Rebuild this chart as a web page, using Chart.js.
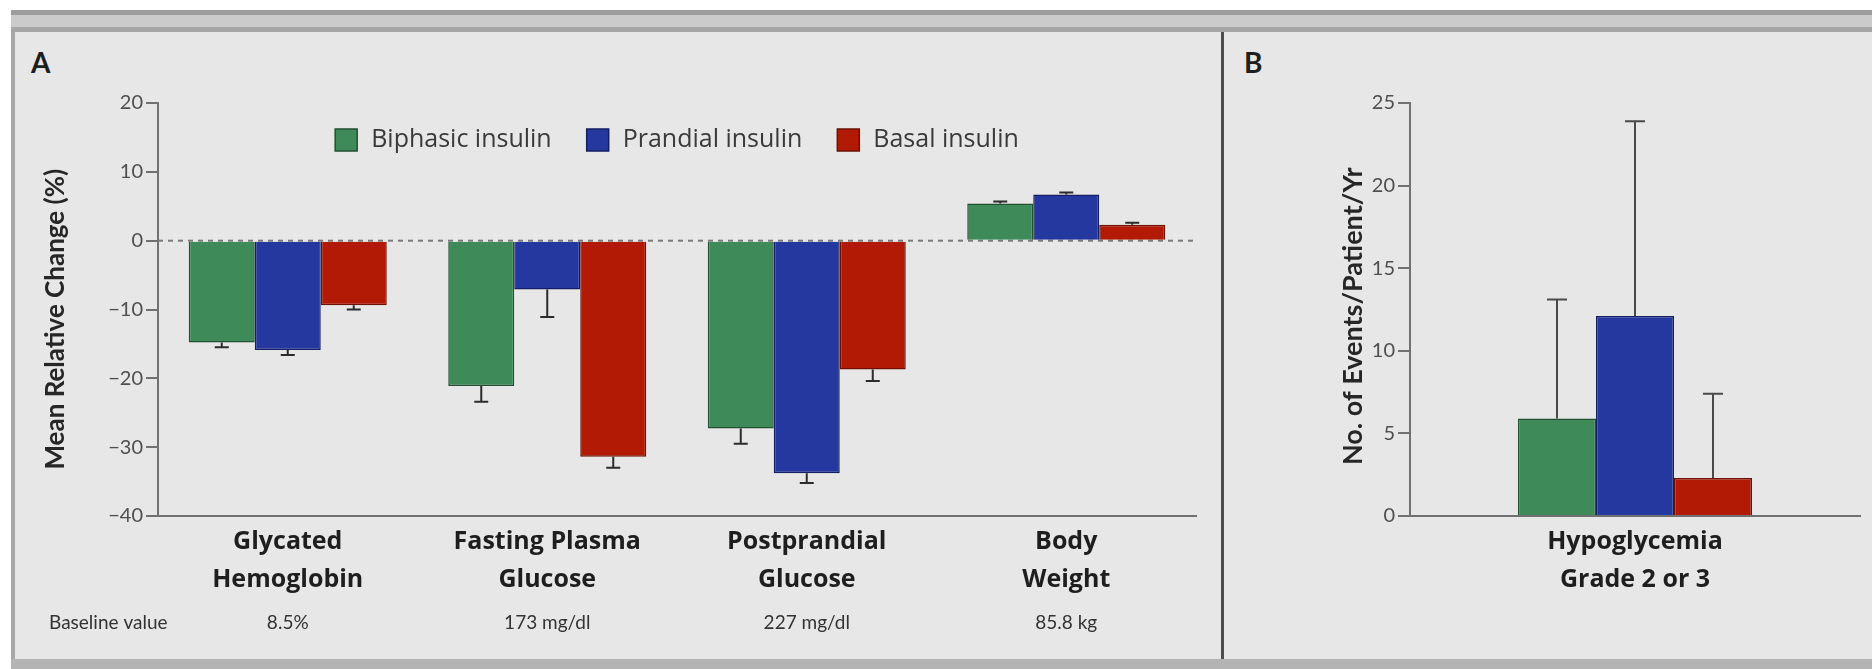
<!DOCTYPE html>
<html>
<head>
<meta charset="utf-8">
<title>Insulin regimens: relative change and hypoglycemia</title>
<script src="https://cdn.jsdelivr.net/npm/chart.js@4.4.1/dist/chart.umd.min.js"></script>
<style>
  html, body { margin: 0; padding: 0; background: #fff; width: 1872px; height: 669px; overflow: hidden; }
  #frame { position: absolute; left: 11px; top: 10px; width: 1861px; height: 659px; background: #e7e7e7; }
  #topband { position: absolute; left: 11px; top: 10px; width: 1861px; height: 22px;
    background: linear-gradient(#9d9d9d 0, #9d9d9d 5px, #cbcbcb 5px, #cbcbcb 17px, #a6a6a6 17px, #a6a6a6 22px); }
  #leftline { position: absolute; left: 11px; top: 32px; width: 4px; height: 627px; background: #a8a8a8; }
  #bottomband { position: absolute; left: 11px; top: 659px; width: 1861px; height: 10px; background: #b4b4b4; }
  #divider { position: absolute; left: 1221px; top: 32px; width: 3px; height: 627px; background: #4d4d4d; }
  .tag { position: absolute; font: bold 28px Lato, sans-serif; color: #1e1e1e; }
  #wrapA { position: absolute; left: 16px; top: 32px; width: 1205px; height: 627px; }
  #wrapB { position: absolute; left: 1225px; top: 32px; width: 647px; height: 627px; }
</style>
</head>
<body>
<div id="frame"></div>
<div id="topband"></div>
<div id="leftline"></div>
<div id="bottomband"></div>
<div id="divider"></div>
<div class="tag" style="left:31px;top:45px;">A</div>
<div class="tag" style="left:1244px;top:45px;">B</div>
<div id="wrapA"><canvas id="chartA" width="1205" height="627"></canvas></div>
<div id="wrapB"><canvas id="chartB" width="647" height="627"></canvas></div>

<script>
// ---- Panel A: mean relative change from baseline (%) ----
const outcomeCategories = [
  ["Glycated", "Hemoglobin"],
  ["Fasting Plasma", "Glucose"],
  ["Postprandial", "Glucose"],
  ["Body", "Weight"]
];
const baselineCaption = "Baseline value";
const baselineValues = ["8.5%", "173 mg/dl", "227 mg/dl", "85.8 kg"];

const biphasicChange = [-14.8, -21.1, -27.3, 5.4];
const biphasicChangeErr = [0.7, 2.3, 2.2, 0.3];
const prandialChange = [-15.9, -7.1, -33.8, 6.7];
const prandialChangeErr = [0.7, 4.0, 1.4, 0.3];
const basalChange = [-9.4, -31.4, -18.7, 2.3];
const basalChangeErr = [0.6, 1.6, 1.7, 0.3];

const changeTicks = [20, 10, 0, -10, -20, -30, -40];

// ---- Panel B: grade 2 or 3 hypoglycemia ----
const hypoCategories = [["Hypoglycemia", "Grade 2 or 3"]];
const biphasicHypo = [5.9];
const biphasicHypoErr = [7.2];
const prandialHypo = [12.1];
const prandialHypoErr = [11.8];
const basalHypo = [2.3];
const basalHypoErr = [5.1];

const eventTicks = [0, 5, 10, 15, 20, 25];

const seriesNames = ["Biphasic insulin", "Prandial insulin", "Basal insulin"];
const fillColors = ["#3e8b59", "#25389f", "#b21a06"];
const edgeColors = ["#234f33", "#141f63", "#6e1004"];

const TICK_FONT = "Lato, 'Open Sans', sans-serif";
const LABEL_FONT = "'Open Sans', Lato, sans-serif";

// Error bars drawn away from zero, with a short cap
const errorBars = {
  id: "errorBars",
  afterDatasetsDraw(chart, args, opts) {
    const ctx = chart.ctx;
    const yScale = chart.scales.y;
    chart.data.datasets.forEach((ds, i) => {
      if (!ds.errors) return;
      const meta = chart.getDatasetMeta(i);
      meta.data.forEach((bar, j) => {
        const v = ds.data[j];
        const end = v + (v < 0 ? -1 : 1) * ds.errors[j];
        const yEnd = yScale.getPixelForValue(end);
        ctx.save();
        ctx.strokeStyle = opts.color;
        ctx.lineWidth = opts.width;
        ctx.beginPath();
        ctx.moveTo(bar.x, bar.y);
        ctx.lineTo(bar.x, yEnd);
        ctx.moveTo(bar.x - opts.cap / 2, yEnd);
        ctx.lineTo(bar.x + opts.cap / 2, yEnd);
        ctx.stroke();
        ctx.restore();
      });
    });
  }
};

// Dashed reference line at zero change
const zeroLine = {
  id: "zeroLine",
  beforeDatasetsDraw(chart) {
    const { ctx, chartArea } = chart;
    const y0 = chart.scales.y.getPixelForValue(0);
    ctx.save();
    ctx.strokeStyle = "#7a7a7a";
    ctx.lineWidth = 2;
    ctx.setLineDash([5, 5]);
    ctx.beginPath();
    ctx.moveTo(chartArea.left, y0);
    ctx.lineTo(chartArea.right + 2, y0);
    ctx.stroke();
    ctx.restore();
  }
};

// One-row legend placed inside the plot, centred over it
const inlineLegend = {
  id: "inlineLegend",
  afterDatasetsDraw(chart, args, opts) {
    const { ctx, chartArea } = chart;
    ctx.save();
    ctx.font = opts.font;
    const items = chart.data.datasets.map(ds => ({
      label: ds.label, fill: ds.backgroundColor, edge: ds.borderColor,
      w: opts.box + opts.gap + ctx.measureText(ds.label).width
    }));
    const total = items.reduce((s, it) => s + it.w, 0) + opts.spacing * (items.length - 1);
    let x = (chartArea.left + chartArea.right) / 2 - total / 2;
    const yc = chartArea.top + opts.offsetY;
    items.forEach(it => {
      ctx.fillStyle = it.fill;
      ctx.fillRect(x, yc - opts.box / 2, opts.box, opts.box);
      ctx.strokeStyle = it.edge;
      ctx.lineWidth = 1.5;
      ctx.strokeRect(x, yc - opts.box / 2, opts.box, opts.box);
      ctx.fillStyle = opts.color;
      ctx.textBaseline = "middle";
      ctx.textAlign = "left";
      ctx.fillText(it.label, x + opts.box + opts.gap, yc);
      x += it.w + opts.spacing;
    });
    ctx.restore();
  }
};

// Row of baseline values under the category labels
const baselineRow = {
  id: "baselineRow",
  afterDraw(chart) {
    const ctx = chart.ctx;
    const xScale = chart.scales.x;
    const y = 591;
    ctx.save();
    ctx.fillStyle = "#333";
    ctx.font = "19px " + TICK_FONT;
    ctx.textBaseline = "middle";
    ctx.textAlign = "left";
    ctx.fillText(baselineCaption, 33, y);
    ctx.textAlign = "center";
    baselineValues.forEach((t, i) => ctx.fillText(t, xScale.getPixelForValue(i), y));
    ctx.restore();
  }
};

function makeDatasets(values, errors, catPct) {
  return seriesNames.map((name, i) => ({
    label: name,
    data: values[i],
    errors: errors[i],
    backgroundColor: fillColors[i],
    borderColor: edgeColors[i],
    borderWidth: 1.5,
    categoryPercentage: catPct,
    barPercentage: 1.0
  }));
}

const minusSign = v => String(v).replace("-", "\u2212");

function yAxis(ticksArr, min, max, width, title, titleSize, titlePad) {
  return {
    min: min, max: max,
    afterBuildTicks: s => { s.ticks = ticksArr.map(v => ({ value: v })); },
    afterFit: s => { s.width = width; },
    border: { display: true, color: "#707070", width: 2 },
    grid: { drawOnChartArea: false, drawTicks: true, tickLength: 12, color: "#707070", lineWidth: 2 },
    ticks: { color: "#4f4f4f", font: { family: TICK_FONT, size: 20 }, padding: 3, callback: minusSign },
    title: { display: true, text: title, color: "#262626",
             font: { family: TICK_FONT, size: titleSize, weight: "bold" }, padding: { top: titlePad, bottom: 0 } }
  };
}

function xAxis() {
  return {
    afterFit: s => { s.height = 143; },
    border: { display: true, color: "#707070", width: 2 },
    grid: { display: false, drawTicks: false },
    ticks: { color: "#1e1e1e", font: { family: LABEL_FONT, size: 25, weight: "bold", lineHeight: 1.52 },
             padding: 7, maxRotation: 0, autoSkip: false }
  };
}

new Chart(document.getElementById("chartA"), {
  type: "bar",
  data: {
    labels: outcomeCategories,
    datasets: makeDatasets([biphasicChange, prandialChange, basalChange],
                           [biphasicChangeErr, prandialChangeErr, basalChangeErr], 0.763)
  },
  options: {
    responsive: false,
    animation: false,
    events: [],
    layout: { padding: { left: 0, right: 25, top: 71, bottom: 0 } },
    scales: {
      x: xAxis(),
      // trailing em space nudges the rotated title slightly downward
      y: yAxis(changeTicks, -40, 20, 142, "Mean Relative Change (%)\u2003", 26, 24)
    },
    plugins: {
      legend: { display: false },
      tooltip: { enabled: false },
      errorBars: { color: "#2b2b2b", width: 2, cap: 14 },
      inlineLegend: { font: "25px " + LABEL_FONT, color: "#3a3a3a", box: 22, gap: 14, spacing: 35, offsetY: 37 }
    }
  },
  plugins: [zeroLine, errorBars, inlineLegend, baselineRow]
});

new Chart(document.getElementById("chartB"), {
  type: "bar",
  data: {
    labels: hypoCategories,
    datasets: makeDatasets([biphasicHypo, prandialHypo, basalHypo],
                           [biphasicHypoErr, prandialHypoErr, basalHypoErr], 0.52)
  },
  options: {
    responsive: false,
    animation: false,
    events: [],
    layout: { padding: { left: 0, right: 12, top: 71, bottom: 0 } },
    scales: {
      x: xAxis(),
      y: yAxis(eventTicks, 0, 25, 185, "No. of Events/Patient/Yr\u2002", 27, 112)
    },
    plugins: {
      legend: { display: false },
      tooltip: { enabled: false },
      errorBars: { color: "#4a4a4a", width: 2, cap: 20 }
    }
  },
  plugins: [errorBars]
});
</script>
</body>
</html>
